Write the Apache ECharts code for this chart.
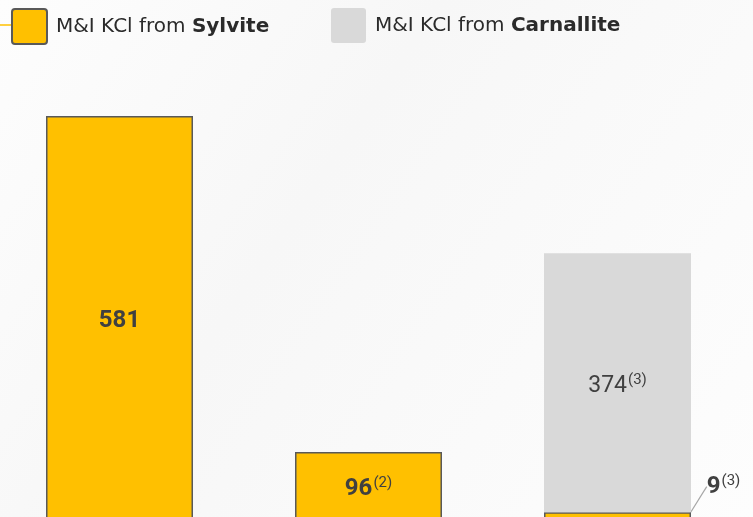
<!DOCTYPE html>
<html>
<head>
<meta charset="utf-8">
<style>
	html, body { margin: 0; padding: 0; }
	#chart { width: 753px; height: 517px; }
</style>
<script src="https://cdn.jsdelivr.net/npm/echarts@6/dist/echarts.min.js"></script>
</head>
<body>
<div id="chart"></div>
<script>
	// data
	var categories = ['1', '2', '3'];
	var sylvite = [581, 96, 9];
	var carnallite = [null, null, 374];
	var sylviteNotes = ['', '(2)', '(3)'];
	var carnalliteNotes = ['', '', '(3)'];
	var seriesNames = ['Sylvite', 'Carnallite'];

	var yellow = '#FFC000';
	var grey = '#D9D9D9';
	var textColor = '#404040';
	// small rounded square for legend
	var squareIcon = 'path://M3,0 H32 Q35,0 35,3 V32 Q35,35 32,35 H3 Q0,35 0,32 V3 Q0,0 3,0 Z';

	function labelFmt(notes) {
		return function (p) {
			var s = '{v|' + p.value + '}';
			if (notes[p.dataIndex]) s += '{s|' + notes[p.dataIndex] + '}';
			return s;
		};
	}

	function legendFmt(name) {
		return 'M&I KCl from {b|' + name + '}';
	}

	var legendText = {
		color: '#2b2b2b',
		fontSize: 20,
		fontFamily: 'DejaVu Sans',
		padding: [0, 0, 0, 4],
		rich: {
			b: { fontSize: 20, fontWeight: 'bold', fontFamily: 'DejaVu Sans', color: '#2b2b2b' }
		}
	};

	var option = {
		backgroundColor: {
			type: 'linear', x: 0, y: 0, x2: 1, y2: 1,
			colorStops: [
				{ offset: 0, color: '#fdfdfd' },
				{ offset: 0.4, color: '#f7f7f7' },
				{ offset: 1, color: '#fdfdfd' }
			]
		},
		animation: false,
		legend: [{
			data: [seriesNames[0]],
			left: 11,
			top: 8,
			padding: 0,
			itemWidth: 35,
			itemHeight: 35,
			icon: squareIcon,
			formatter: legendFmt,
			textStyle: legendText
		}, {
			data: [seriesNames[1]],
			left: 331,
			top: 8,
			padding: 0,
			itemWidth: 35,
			itemHeight: 35,
			icon: squareIcon,
			formatter: legendFmt,
			textStyle: legendText
		}],
		graphic: [{
			type: 'line',
			shape: { x1: 0, y1: 25, x2: 11, y2: 25 },
			style: { stroke: yellow, lineWidth: 1.5 }
		}],
		grid: {
			top: 116,
			left: -5,
			right: 11,
			bottom: -1.5,
			outerBoundsMode: 'none'
		},
		xAxis: {
			type: 'category',
			data: categories,
			show: false
		},
		yAxis: {
			type: 'value',
			min: 0,
			max: 581,
			show: false
		},
		series: [{
			name: seriesNames[0],
			type: 'bar',
			stack: 'kcl',
			barWidth: 147,
			data: sylvite,
			itemStyle: {
				color: yellow,
				borderColor: '#595959',
				borderWidth: 1.5
			},
			label: {
				show: true,
				position: 'inside',
				formatter: labelFmt(sylviteNotes),
				rich: {
					v: { fontSize: 24, fontWeight: 'bold', color: textColor, fontFamily: 'Roboto' },
					s: { fontSize: 15, color: textColor, fontFamily: 'Roboto', padding: [0, 0, 12, 1] }
				}
			},
			labelLayout: function (p) {
				// the small top slice gets its label outside, to the right
				if (p.dataIndex === 2) {
					return { dx: 106, dy: -28 };
				}
				return { dy: 4 };
			},
			labelLine: {
				show: true,
				lineStyle: { color: '#a6a6a6', width: 1.2 }
			}
		}, {
			name: seriesNames[1],
			type: 'bar',
			stack: 'kcl',
			barWidth: 147,
			data: carnallite,
			itemStyle: {
				color: grey,
				borderWidth: 0
			},
			label: {
				show: true,
				position: 'inside',
				offset: [0, 4],
				formatter: labelFmt(carnalliteNotes),
				rich: {
					v: { fontSize: 23, color: textColor, fontFamily: 'Roboto' },
					s: { fontSize: 15, color: textColor, fontFamily: 'Roboto', padding: [0, 0, 12, 1] }
				}
			}
		}]
	};

	var chart = echarts.init(document.getElementById('chart'));
	chart.setOption(option);
</script>
</body>
</html>
